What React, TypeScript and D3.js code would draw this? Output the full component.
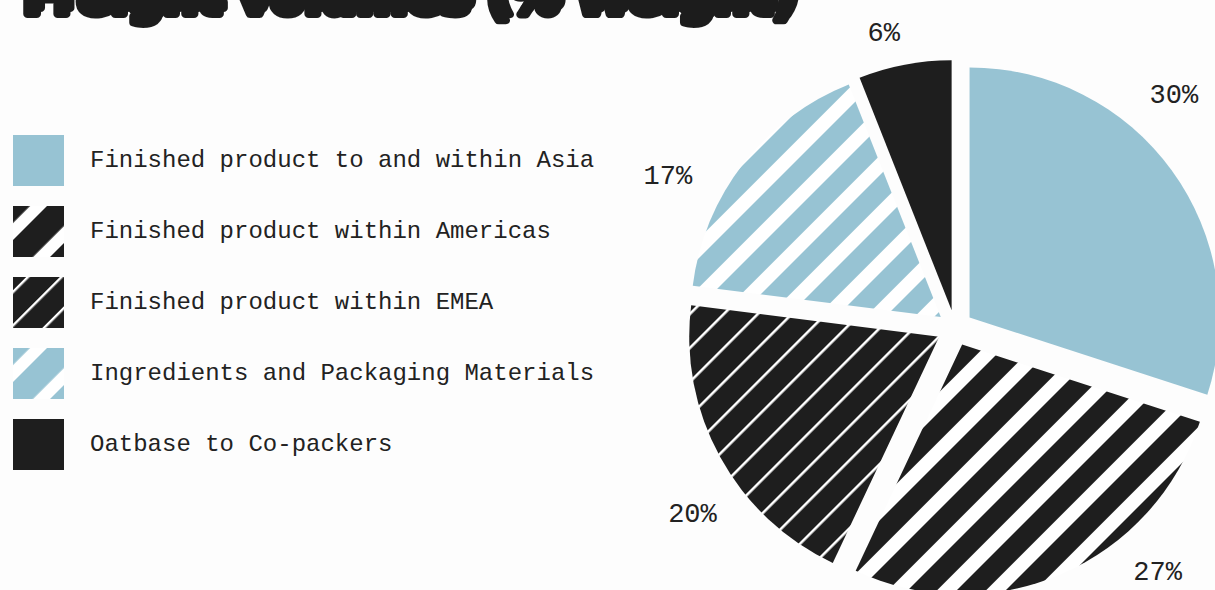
import React from 'react';
import * as d3 from 'd3';

// ---- data ----
const categories: string[] = [
  'Finished product to and within Asia',
  'Finished product within Americas',
  'Finished product within EMEA',
  'Ingredients and Packaging Materials',
  'Oatbase to Co-packers',
];
const shares: number[] = [30, 27, 20, 17, 6];
const shareLabels: string[] = ['30%', '27%', '20%', '17%', '6%'];
const fillKinds: string[] = ['solid-blue', 'stripe-black', 'lines-black', 'stripe-blue', 'solid-black'];
const titleText = 'Freight volumes (% Weight)';

// ---- style ----
const W = 1215;
const H = 590;
const BLUE = '#97c3d3';
const INK = '#1e1e1e';
const BG = '#fdfdfd';
const CX = 955;
const CY = 328;
const R = 250;
const EXPLODE = 18;
const LABEL_R = 303;
const LABEL_FRAC = 0.37;
const MONO = '"Liberation Mono", "DejaVu Sans Mono", monospace';
const S2 = Math.SQRT2;

type PatSpec = { period: number; fw: number; fg: string; bg: string; phase: number };

// pie pattern specs (in x+y screen units)
const pieSpec: Record<string, PatSpec | null> = {
  'solid-blue': null,
  'solid-black': null,
  'stripe-black': { period: 49, fw: 29.4, fg: INK, bg: '#ffffff', phase: 1400 },
  'stripe-blue': { period: 49, fw: 29.4, fg: BLUE, bg: '#ffffff', phase: 908 },
  'lines-black': { period: 34, fw: 3.6, fg: '#ffffff', bg: INK, phase: 1138 },
};
// legend swatch specs (relative to swatch origin)
const legSpec: Record<string, PatSpec | null> = {
  'solid-blue': null,
  'solid-black': null,
  'stripe-black': { period: 54, fw: 37, fg: INK, bg: '#ffffff', phase: 34 },
  'stripe-blue': { period: 54, fw: 37, fg: BLUE, bg: '#ffffff', phase: 34 },
  'lines-black': { period: 33.5, fw: 3.4, fg: '#ffffff', bg: INK, phase: 13.3 },
};

function Pattern({ id, spec, pre }: { id: string; spec: PatSpec; pre: string }) {
  const tw = spec.period / S2;
  return (
    <pattern
      id={id}
      patternUnits="userSpaceOnUse"
      width={tw}
      height={10}
      patternTransform={`${pre} rotate(45) translate(${spec.phase / S2},0)`}
    >
      <rect x={0} y={0} width={tw} height={10} fill={spec.bg} />
      <rect x={0} y={0} width={spec.fw / S2} height={10} fill={spec.fg} />
    </pattern>
  );
}

function solidColor(kind: string) {
  return kind === 'solid-blue' ? BLUE : INK;
}

export default function App() {
  const pie = d3.pie<number>().sort(null).value((d) => d).startAngle(0).endAngle(2 * Math.PI);
  const arcs = pie(shares);
  const arcGen = d3.arc<d3.PieArcDatum<number>>().innerRadius(0).outerRadius(R);

  const rowY = d3.scaleLinear().domain([0, 1]).range([160.5, 231.5]);
  const SW = 51;
  const SX = 13;

  const slices = arcs.map((a, i) => {
    const mid = (a.startAngle + a.endAngle) / 2;
    const tx = CX + EXPLODE * Math.sin(mid);
    const ty = CY - EXPLODE * Math.cos(mid);
    const la = a.startAngle + LABEL_FRAC * (a.endAngle - a.startAngle);
    const sx = Math.sin(la);
    const lx = CX + LABEL_R * sx;
    const ly = CY - LABEL_R * Math.cos(la);
    const anchor = sx > 0.3 ? 'start' : sx < -0.3 ? 'end' : 'middle';
    return { a, i, tx, ty, lx, ly, anchor, kind: fillKinds[i] };
  });

  return (
    <svg
      width={W}
      height={H}
      viewBox={`0 0 ${W} ${H}`}
      style={{ position: 'absolute', left: 0, top: 0, display: 'block' }}
    >
      <defs>
        <filter id="title-shadow" x="-5%" y="-50%" width="110%" height="200%">
          <feOffset in="SourceGraphic" dx={-4} dy={6} result="off" />
          <feMerge>
            <feMergeNode in="off" />
            <feMergeNode in="SourceGraphic" />
          </feMerge>
        </filter>
        {slices.map((s) => {
          const spec = pieSpec[s.kind];
          return spec ? (
            <Pattern key={'pp' + s.i} id={'pie-pat-' + s.i} spec={spec} pre={`translate(${-s.tx},${-s.ty})`} />
          ) : null;
        })}
        {categories.map((c, i) => {
          const spec = legSpec[fillKinds[i]];
          const y0 = rowY(i) - SW / 2;
          return spec ? (
            <Pattern key={'lp' + i} id={'leg-pat-' + i} spec={spec} pre={`translate(${SX},${y0})`} />
          ) : null;
        })}
      </defs>
      <rect x={0} y={0} width={W} height={H} fill={BG} />

      {/* title (mostly cropped at the top) */}
      <text
        x={27}
        y={8}
        textLength={772}
        lengthAdjust="spacingAndGlyphs"
        fontFamily='"DejaVu Sans", sans-serif'
        fontWeight={900}
        fontSize={46}
        fill={INK}
        stroke={INK}
        strokeWidth={8}
        strokeLinejoin="round"
        filter="url(#title-shadow)"
      >
        {titleText}
      </text>

      {/* legend */}
      <g>
        {categories.map((c, i) => {
          const kind = fillKinds[i];
          const y = rowY(i);
          const fill = legSpec[kind] ? `url(#leg-pat-${i})` : solidColor(kind);
          return (
            <g key={c}>
              <rect x={SX} y={y - SW / 2} width={SW} height={SW} fill={fill} />
              <text
                x={90}
                y={y}
                dominantBaseline="central"
                fontFamily={MONO}
                fontSize={24}
                fill="#222"
              >
                {c}
              </text>
            </g>
          );
        })}
      </g>

      {/* pie */}
      <g>
        {slices.map((s) => {
          const fill = pieSpec[s.kind] ? `url(#pie-pat-${s.i})` : solidColor(s.kind);
          return (
            <path
              key={'s' + s.i}
              d={arcGen(s.a) || ''}
              transform={`translate(${s.tx},${s.ty})`}
              fill={fill}
            />
          );
        })}
      </g>

      {/* percentage labels */}
      <g fontFamily={MONO} fontSize={27} fill="#222">
        {slices.map((s) => (
          <text
            key={'l' + s.i}
            x={s.lx}
            y={s.ly}
            textAnchor={s.anchor}
            dominantBaseline="central"
          >
            {shareLabels[s.i]}
          </text>
        ))}
      </g>
    </svg>
  );
}
